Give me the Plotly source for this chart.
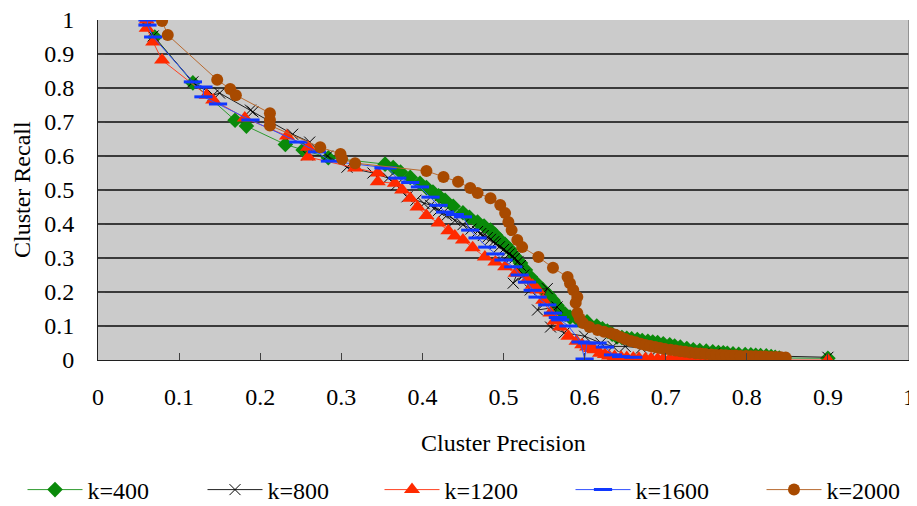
import plotly.graph_objects as go

# ---- data ----
k400_x = [0.060, 0.070, 0.117, 0.169, 0.183, 0.231, 0.253, 0.284, 0.354, 0.364, 0.373, 0.385, 0.397, 0.405,
          0.413, 0.420, 0.428, 0.438, 0.450, 0.458, 0.468, 0.476, 0.484, 0.490, 0.496, 0.502, 0.508, 0.514,
          0.521, 0.527, 0.533, 0.541, 0.549, 0.556, 0.561, 0.566, 0.570, 0.576, 0.582, 0.592, 0.603, 0.615,
          0.622, 0.628, 0.634, 0.640, 0.646, 0.652, 0.658, 0.665, 0.671, 0.678, 0.684, 0.690, 0.697, 0.705,
          0.711, 0.718, 0.726, 0.734, 0.742, 0.750, 0.758, 0.765, 0.771, 0.776, 0.783, 0.790, 0.798, 0.805,
          0.811, 0.817, 0.824, 0.830, 0.835, 0.840, 0.900]
k400_y = [1.000, 0.950, 0.815, 0.705, 0.688, 0.634, 0.618, 0.595, 0.576, 0.566, 0.553, 0.537, 0.520, 0.507,
          0.494, 0.483, 0.470, 0.452, 0.433, 0.420, 0.406, 0.394, 0.382, 0.368, 0.353, 0.340, 0.325, 0.305,
          0.285, 0.265, 0.245, 0.225, 0.206, 0.190, 0.176, 0.160, 0.147, 0.135, 0.126, 0.118, 0.112, 0.100,
          0.092, 0.085, 0.076, 0.068, 0.066, 0.064, 0.062, 0.060, 0.057, 0.055, 0.053, 0.051, 0.048, 0.045,
          0.041, 0.038, 0.034, 0.030, 0.028, 0.026, 0.024, 0.022, 0.021, 0.020, 0.018, 0.017, 0.016, 0.015,
          0.014, 0.013, 0.012, 0.010, 0.008, 0.006, 0.005]

k800_x = [0.060, 0.068, 0.117, 0.142, 0.150, 0.188, 0.191, 0.240, 0.261, 0.258, 0.283, 0.307, 0.339, 0.358,
          0.368, 0.381, 0.392, 0.402, 0.410, 0.415, 0.420, 0.425, 0.430, 0.440, 0.450, 0.460, 0.468, 0.472,
          0.475, 0.480, 0.484, 0.488, 0.490, 0.495, 0.500, 0.504, 0.507, 0.511, 0.514, 0.518, 0.521, 0.512,
          0.525, 0.533, 0.554, 0.542, 0.566, 0.558, 0.575, 0.600, 0.620, 0.635, 0.650, 0.670, 0.690, 0.710,
          0.737, 0.760, 0.773, 0.900]
k800_y = [1.000, 0.953, 0.818, 0.779, 0.785, 0.735, 0.730, 0.664, 0.641, 0.603, 0.600, 0.567, 0.550, 0.535,
          0.515, 0.480, 0.470, 0.460, 0.455, 0.447, 0.440, 0.432, 0.425, 0.410, 0.398, 0.385, 0.378, 0.372,
          0.366, 0.360, 0.355, 0.348, 0.342, 0.333, 0.325, 0.318, 0.312, 0.305, 0.300, 0.290, 0.278, 0.226,
          0.250, 0.206, 0.210, 0.147, 0.156, 0.097, 0.080, 0.070, 0.050, 0.040, 0.040, 0.035, 0.030, 0.025,
          0.020, 0.018, 0.015, 0.008]

k1200_x = [0.060, 0.060, 0.068, 0.079, 0.134, 0.142, 0.181, 0.233, 0.259, 0.259, 0.317, 0.345, 0.345, 0.366,
           0.375, 0.385, 0.394, 0.405, 0.420, 0.432, 0.440, 0.450, 0.462, 0.477, 0.490, 0.502, 0.515, 0.529,
           0.536, 0.542, 0.549, 0.558, 0.563, 0.570, 0.580, 0.590, 0.597, 0.603, 0.608, 0.612, 0.619, 0.625,
           0.630, 0.637, 0.645, 0.652, 0.660, 0.667, 0.675, 0.682, 0.690, 0.697, 0.705, 0.712, 0.720, 0.727,
           0.735, 0.742, 0.750, 0.757, 0.765, 0.772, 0.780, 0.787, 0.795, 0.802, 0.810, 0.818, 0.825, 0.832,
           0.840, 0.900]
k1200_y = [1.000, 0.976, 0.935, 0.882, 0.779, 0.765, 0.712, 0.659, 0.626, 0.597, 0.565, 0.550, 0.524, 0.520,
           0.500, 0.476, 0.450, 0.425, 0.403, 0.380, 0.365, 0.353, 0.330, 0.303, 0.288, 0.274, 0.255, 0.235,
           0.220, 0.206, 0.176, 0.138, 0.115, 0.097, 0.070, 0.055, 0.045, 0.038, 0.034, 0.030, 0.020, 0.016,
           0.012, 0.010, 0.008, 0.007, 0.006, 0.005, 0.004, 0.004, 0.003, 0.003, 0.003, 0.003, 0.003, 0.002,
           0.002, 0.002, 0.002, 0.002, 0.002, 0.001, 0.001, 0.001, 0.001, 0.001, 0.001, 0.000, 0.000, 0.000,
           0.000, 0.000]

k1600_x = [0.061, 0.061, 0.068, 0.117, 0.130, 0.130, 0.148, 0.188, 0.247, 0.270, 0.286, 0.352, 0.357, 0.369,
           0.385, 0.397, 0.410, 0.420, 0.428, 0.440, 0.450, 0.459, 0.468, 0.480, 0.490, 0.500, 0.512, 0.520,
           0.529, 0.536, 0.542, 0.554, 0.561, 0.567, 0.570, 0.580, 0.595, 0.600, 0.603, 0.616, 0.625, 0.635,
           0.645, 0.660]
k1600_y = [1.000, 0.985, 0.950, 0.818, 0.803, 0.774, 0.753, 0.706, 0.641, 0.612, 0.585, 0.565, 0.565, 0.535,
           0.522, 0.509, 0.479, 0.455, 0.435, 0.428, 0.421, 0.382, 0.359, 0.332, 0.312, 0.294, 0.274, 0.250,
           0.229, 0.205, 0.185, 0.162, 0.138, 0.125, 0.118, 0.100, 0.053, 0.003, 0.050, 0.050, 0.038, 0.015,
           0.010, 0.008]

k2000_x = [0.079, 0.086, 0.147, 0.163, 0.170, 0.212, 0.212, 0.212, 0.274, 0.299, 0.301, 0.317, 0.405, 0.426,
           0.444, 0.459, 0.468, 0.484, 0.496, 0.502, 0.506, 0.510, 0.517, 0.523, 0.543, 0.561, 0.579, 0.582,
           0.586, 0.591, 0.589, 0.591, 0.594, 0.598, 0.606, 0.616, 0.624, 0.632, 0.638, 0.644, 0.650, 0.657,
           0.663, 0.669, 0.675, 0.681, 0.687, 0.693, 0.699, 0.706, 0.712, 0.718, 0.724, 0.730, 0.737, 0.743,
           0.749, 0.756, 0.762, 0.768, 0.774, 0.780, 0.786, 0.792, 0.799, 0.805, 0.811, 0.817, 0.823, 0.830,
           0.836, 0.842, 0.848]
k2000_y = [0.997, 0.956, 0.824, 0.797, 0.779, 0.726, 0.706, 0.690, 0.626, 0.606, 0.591, 0.579, 0.556, 0.538,
           0.524, 0.506, 0.491, 0.476, 0.456, 0.432, 0.406, 0.382, 0.353, 0.332, 0.303, 0.271, 0.244, 0.226,
           0.206, 0.185, 0.168, 0.138, 0.122, 0.109, 0.097, 0.088, 0.083, 0.079, 0.074, 0.068, 0.062, 0.056,
           0.052, 0.048, 0.044, 0.041, 0.038, 0.035, 0.032, 0.030, 0.028, 0.026, 0.024, 0.022, 0.020, 0.019,
           0.018, 0.016, 0.015, 0.015, 0.014, 0.013, 0.013, 0.012, 0.012, 0.011, 0.011, 0.010, 0.010, 0.009,
           0.009, 0.008, 0.007]

series_names = ["k=400", "k=800", "k=1200", "k=1600", "k=2000"]
tick_vals = [0, 0.1, 0.2, 0.3, 0.4, 0.5, 0.6, 0.7, 0.8, 0.9, 1]
tick_text = ["0", "0.1", "0.2", "0.3", "0.4", "0.5", "0.6", "0.7", "0.8", "0.9", "1"]

FONT = "Liberation Serif, DejaVu Serif, Times New Roman, serif"
FS = 24

# page body has an 8px margin, so the figure is drawn 8px smaller and offset
W, H = 909, 498
ML, MR, MT, MB = 90, 8, 12, 146
PW = W - ML - MR   # plot width in px
PH = H - MT - MB   # plot height in px

fig = go.Figure()

styles = [
    dict(x=k400_x, y=k400_y, color="#0A8A0A", lcolor="#2E9A2E", symbol="diamond", size=12, lw=0),
    dict(x=k800_x, y=k800_y, color="#000000", lcolor="#202020", symbol="x-thin", size=11, lw=1),
    dict(x=k1200_x, y=k1200_y, color="#FF2A00", lcolor="#FF4020", symbol="triangle-up", size=14, lw=0),
    dict(x=k1600_x, y=k1600_y, color="#1038FF", lcolor="#3050FF", symbol="line-ew", size=13, lw=3),
    dict(x=k2000_x, y=k2000_y, color="#A84A00", lcolor="#B86A30", symbol="circle", size=12, lw=0),
]

legend_ids = ["legend", "legend2", "legend3", "legend4", "legend5"]
legend_left_px = [14.5, 194.5, 371.5, 562.5, 753.5]   # figure px of each legend box

for name, s, lid in zip(series_names, styles, legend_ids):
    marker = dict(symbol=s["symbol"], size=s["size"], color=s["color"])
    if s["lw"]:
        marker["line"] = dict(color=s["color"], width=s["lw"])
    else:
        marker["line"] = dict(width=0)
    fig.add_trace(go.Scatter(
        x=s["x"], y=s["y"], name=name, mode="lines+markers",
        line=dict(color=s["lcolor"], width=1),
        marker=marker, legend=lid,
    ))

legend_y = -(482 - (MT + PH)) / PH
legends = {}
for lid, lx in zip(legend_ids, legend_left_px):
    legends[lid] = dict(
        orientation="h", x=(lx - ML) / PW, xanchor="left", y=legend_y, yanchor="middle",
        itemwidth=55, bgcolor="rgba(0,0,0,0)",
        font=dict(family=FONT, size=FS, color="black"),
        itemclick=False, itemdoubleclick=False,
    )

fig.update_layout(
    width=W, height=H,
    margin=dict(l=ML, r=MR, t=MT, b=MB, autoexpand=False),
    paper_bgcolor="white",
    plot_bgcolor="#CBCBCB",
    font=dict(family=FONT, size=FS, color="black"),
    showlegend=True,
    xaxis=dict(
        range=[0, 1], tickvals=tick_vals, ticktext=tick_text,
        ticks="inside", ticklen=7, tickcolor="#404040",
        showgrid=False, zeroline=False,
        showline=True, linecolor="#202020", linewidth=1,
        ticklabelstandoff=15, ticklabeloverflow="allow",
    ),
    yaxis=dict(
        range=[0, 1], tickvals=tick_vals, ticktext=tick_text,
        ticks="inside", ticklen=7, tickcolor="#404040",
        showgrid=True, gridcolor="#3A3A3A", gridwidth=1.5,
        zeroline=False,
        showline=True, linecolor="#202020", linewidth=1,
        ticklabelstandoff=18, ticklabeloverflow="allow",
    ),
    annotations=[
        dict(text="Cluster Precision", xref="paper", yref="paper", x=(495 - ML) / PW,
             y=-(435 - (MT + PH)) / PH,
             xanchor="center", yanchor="middle", showarrow=False,
             font=dict(family=FONT, size=FS, color="black")),
        dict(text="Cluster Recall", xref="paper", yref="paper", x=(14 - ML) / PW, y=0.5,
             xanchor="center", yanchor="middle", showarrow=False, textangle=-90,
             font=dict(family=FONT, size=FS, color="black")),
    ],
    shapes=[
        dict(type="line", xref="paper", yref="paper", x0=1, x1=1, y0=0, y1=1,
             line=dict(color="#808080", width=1.5)),
    ],
    **legends,
)

fig.write_html("out.html")
